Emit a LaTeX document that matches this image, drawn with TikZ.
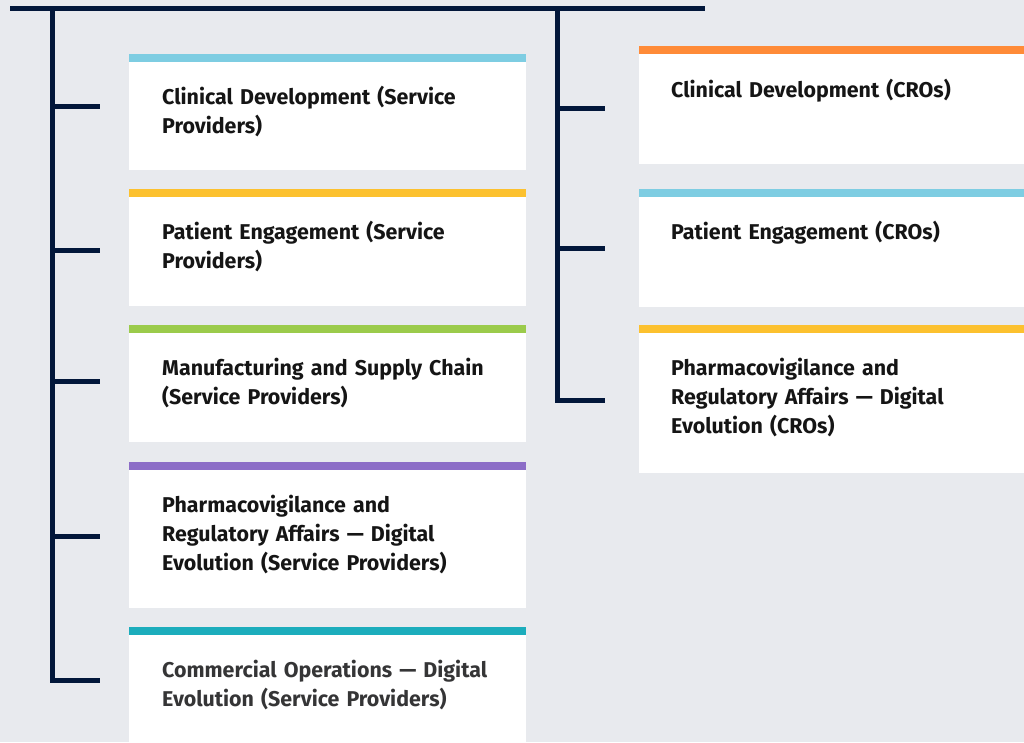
\documentclass[tikz,border=0pt]{standalone}
\usepackage{fontspec}
\setmainfont[Ligatures=NoCommon]{Fira Sans}
\definecolor{bg}{HTML}{E8EAEE}
\definecolor{navy}{HTML}{02173A}
\definecolor{ink}{HTML}{151515}
\definecolor{cblue}{HTML}{7ECDE2}
\definecolor{cyellow}{HTML}{FCC12F}
\definecolor{cgreen}{HTML}{9BCB4B}
\definecolor{cpurple}{HTML}{8C6DC7}
\definecolor{cteal}{HTML}{1CADBC}
\definecolor{corange}{HTML}{FF8B38}
\begin{document}
\begin{tikzpicture}[x=1pt,y=-1pt,
  card/.style={fill=white, anchor=north west, inner sep=0pt, outer sep=0pt},
  lcard/.style={card, minimum width=397pt},
  rcard/.style={card, minimum width=385pt},
  txt/.style={anchor=base west, inner sep=0pt, text width=380pt, align=left,
    font=\fontsize{21.4}{29}\selectfont\bfseries, text=ink},
  trunk/.style={draw=navy, line width=5pt, line join=miter}
]
\useasboundingbox[fill=bg] (0,0) rectangle (1024,742);

% left cards
\node[lcard, minimum height=116pt] (L1) at (129,54) {};
\fill[cblue] (L1.north west) rectangle ++(397,8);
\node[txt] (T1) at (162,104) {Clinical Development (Service\\Providers)};

\node[lcard, minimum height=117pt] (L2) at (129,189) {};
\fill[cyellow] (L2.north west) rectangle ++(397,8);
\node[txt] (T2) at (162,239) {Patient Engagement (Service\\Providers)};

\node[lcard, minimum height=117pt] (L3) at (129,325) {};
\fill[cgreen] (L3.north west) rectangle ++(397,8);
\node[txt] (T3) at (162,375) {Manufacturing and Supply Chain\\(Service Providers)};

\node[lcard, minimum height=146pt] (L4) at (129,462) {};
\fill[cpurple] (L4.north west) rectangle ++(397,8);
\node[txt] (T4) at (162,512) {Pharmacovigilance and\\Regulatory Affairs — Digital\\Evolution (Service Providers)};

\node[lcard, minimum height=115pt] (L5) at (129,627) {};
\fill[cteal] (L5.north west) rectangle ++(397,8);
\node[txt, text=ink!85!bg] (T5) at (162,677) {Commercial Operations — Digital\\Evolution (Service Providers)};

% right cards
\node[rcard, minimum height=118pt] (R1) at (639,46) {};
\fill[corange] (R1.north west) rectangle ++(385,8);
\node[txt] (U1) at (671,97) {Clinical Development (CROs)};

\node[rcard, minimum height=118pt] (R2) at (639,189) {};
\fill[cblue] (R2.north west) rectangle ++(385,8);
\node[txt] (U2) at (671,239) {Patient Engagement (CROs)};

\node[rcard, minimum height=148pt] (R3) at (639,325) {};
\fill[cyellow] (R3.north west) rectangle ++(385,8);
\node[txt] (U3) at (671,375) {Pharmacovigilance and\\Regulatory Affairs — Digital\\Evolution (CROs)};

% connector coordinates
\coordinate (top0) at (10,8);
\coordinate (top1) at (705,8);
\coordinate (lt) at (52,8);
\coordinate (rt) at (557.5,8);
\coordinate (lb1) at (100,106);
\coordinate (lb2) at (100,250);
\coordinate (lb3) at (100,381);
\coordinate (lb4) at (100,536);
\coordinate (lb5) at (100,680);
\coordinate (rb1) at (605,108);
\coordinate (rb2) at (605,248);
\coordinate (rb3) at (605,400);

\draw[trunk] (top0) -- (top1);
\draw[trunk] (lt) |- (lb5);
\draw[trunk] (rt) |- (rb3);
\foreach \b in {lb1,lb2,lb3,lb4} \draw[trunk] (lt |- \b) -- (\b);
\foreach \b in {rb1,rb2} \draw[trunk] (rt |- \b) -- (\b);
\end{tikzpicture}
\end{document}
